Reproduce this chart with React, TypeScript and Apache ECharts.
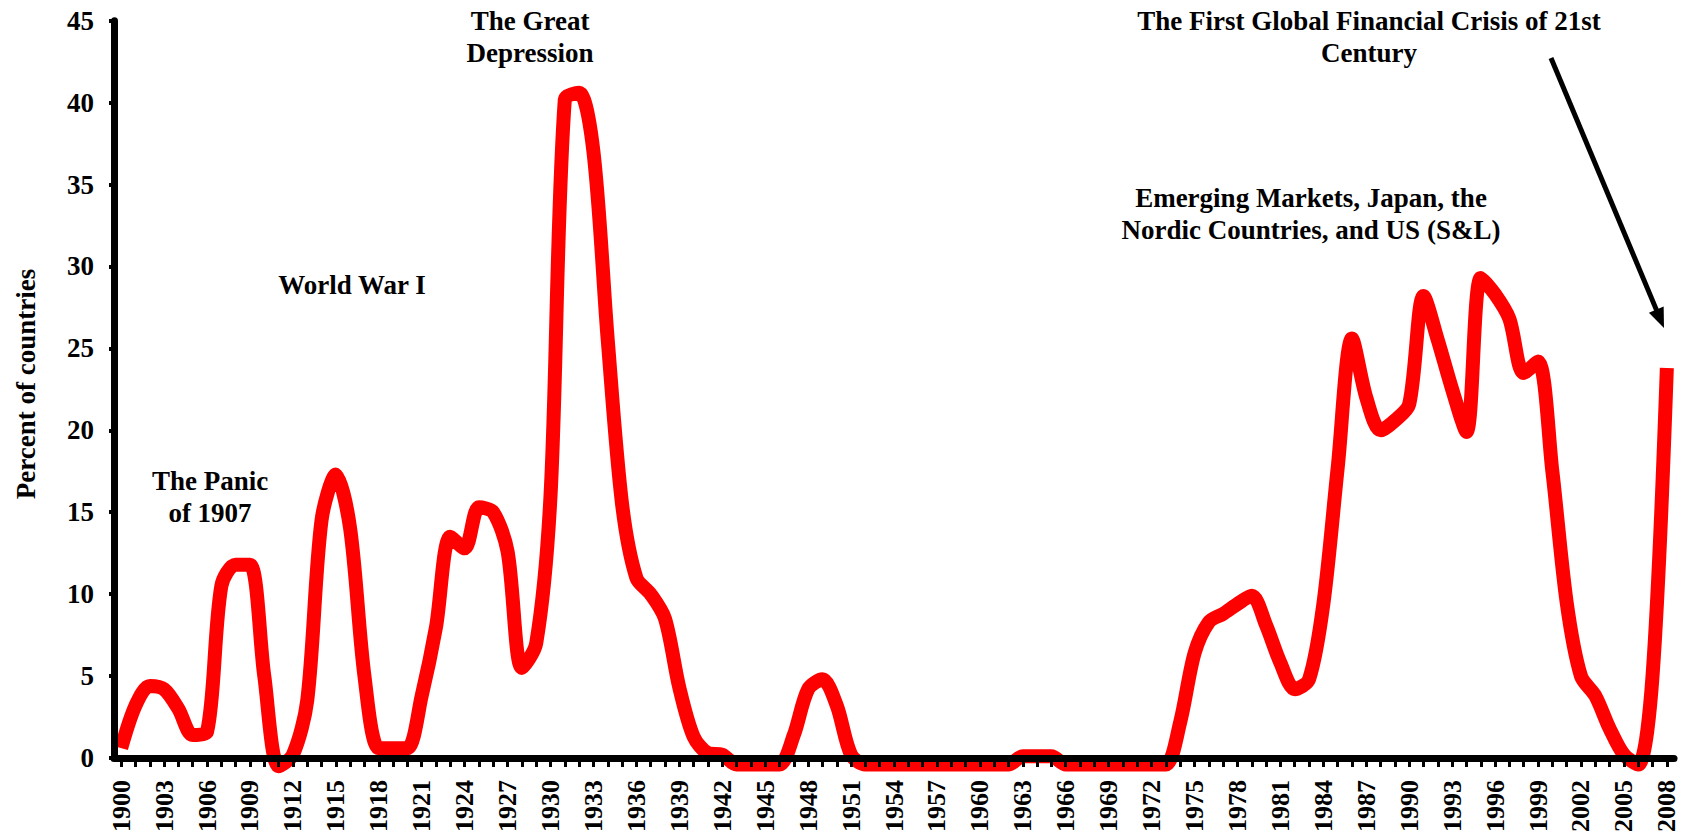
import React, { useEffect, useRef } from "react";
import * as echarts from "echarts";

const years: string[] = [
  "1900","1901","1902","1903","1904","1905","1906","1907","1908","1909",
  "1910","1911","1912","1913","1914","1915","1916","1917","1918","1919",
  "1920","1921","1922","1923","1924","1925","1926","1927","1928","1929",
  "1930","1931","1932","1933","1934","1935","1936","1937","1938","1939",
  "1940","1941","1942","1943","1944","1945","1946","1947","1948","1949",
  "1950","1951","1952","1953","1954","1955","1956","1957","1958","1959",
  "1960","1961","1962","1963","1964","1965","1966","1967","1968","1969",
  "1970","1971","1972","1973","1974","1975","1976","1977","1978","1979",
  "1980","1981","1982","1983","1984","1985","1986","1987","1988","1989",
  "1990","1991","1992","1993","1994","1995","1996","1997","1998","1999",
  "2000","2001","2002","2003","2004","2005","2006","2007","2008",
];

// Percent of countries in banking crisis
const percentCountries: number[] = [
  0.6, 3.2, 4.4, 4.2, 3.0, 1.4, 1.6, 10.5, 11.8, 11.8,
  5.0, -0.5, 0.2, 3.5, 14.5, 17.3, 14.0, 5.0, 0.6, 0.6,
  0.6, 3.8, 8.0, 13.5, 12.8, 15.3, 15.0, 12.6, 5.5, 7.0,
  16.0, 40.2, 40.6, 37.0, 25.5, 15.5, 11.0, 10.0, 8.5, 4.3,
  1.3, 0.3, 0.2, -0.4, -0.4, -0.4, -0.4, 1.4, 4.2, 4.8,
  3.2, 0.2, -0.4, -0.4, -0.4, -0.4, -0.4, -0.4, -0.4, -0.4,
  -0.4, -0.4, -0.4, 0.1, 0.1, 0.1, -0.4, -0.4, -0.4, -0.4,
  -0.4, -0.4, -0.4, -0.4, 2.2, 6.4, 8.3, 8.8, 9.4, 9.9,
  8.1, 5.8, 4.2, 4.8, 9.4, 17.7, 25.6, 22.0, 20.0, 20.6,
  21.6, 28.2, 25.5, 22.5, 19.9, 29.3, 28.3, 26.8, 23.5, 24.2,
  17.5, 9.5, 5.0, 3.8, 1.8, 0.2, -0.4, 5.0, 23.8,
];

const yTicks = { min: 0, max: 45, interval: 5 };

const yTitle = "Percent of countries";

const annotations: { text: string; x: number; y: number }[] = [
  { text: "The Panic\nof 1907", x: 210, y: 497 },
  { text: "World War I", x: 352, y: 285 },
  { text: "The Great\nDepression", x: 530, y: 37 },
  { text: "The First Global Financial Crisis of 21st\nCentury", x: 1369, y: 37 },
  { text: "Emerging Markets, Japan, the\nNordic Countries, and US (S&L)", x: 1311, y: 214 },
];

const FONT = "'Liberation Serif', 'Times New Roman', serif";

export default function App() {
  const ref = useRef<HTMLDivElement>(null);

  useEffect(() => {
    document.body.style.margin = "0";
    document.body.style.overflow = "hidden";
    if (!ref.current) return;
    const chart = echarts.init(ref.current, undefined, { renderer: "svg" });

    // arrow geometry
    const sx = 1551, sy = 58, tx = 1664, ty = 328;
    const dx = tx - sx, dy = ty - sy;
    const len = Math.sqrt(dx * dx + dy * dy);
    const ux = dx / len, uy = dy / len;
    const headLen = 20, headHalf = 8;
    const bx = tx - ux * headLen, by = ty - uy * headLen;
    const nx = -uy, ny = ux;

    const graphics: any[] = annotations.map((a) => ({
      type: "text",
      x: a.x,
      y: a.y,
      z: 20,
      style: {
        text: a.text,
        fill: "#000",
        font: `bold 27px ${FONT}`,
        align: "center",
        verticalAlign: "middle",
        lineHeight: 32,
      },
    }));
    graphics.push({
      type: "text",
      x: 26,
      y: 384,
      rotation: Math.PI / 2,
      z: 20,
      style: {
        text: yTitle,
        fill: "#000",
        font: `bold 27px ${FONT}`,
        align: "center",
        verticalAlign: "middle",
      },
    });
    graphics.push({
      type: "line",
      z: 20,
      shape: { x1: sx, y1: sy, x2: bx + ux * 2, y2: by + uy * 2 },
      style: { stroke: "#000", lineWidth: 5 },
    });
    graphics.push({
      type: "polygon",
      z: 20,
      shape: {
        points: [
          [tx, ty],
          [bx + nx * headHalf, by + ny * headHalf],
          [bx - nx * headHalf, by - ny * headHalf],
        ],
      },
      style: { fill: "#000" },
    });

    chart.setOption({
      animation: false,
      backgroundColor: "#fff",
      grid: { left: 114, right: 8, top: 20.7, bottom: 74.5, containLabel: false },
      xAxis: {
        type: "category",
        data: years,
        boundaryGap: true,
        offset: 4,
        z: 10,
        axisLine: { show: true, lineStyle: { color: "#000", width: 7 } },
        axisTick: {
          show: true,
          interval: 0,
          alignWithLabel: true,
          length: 9,
          lineStyle: { color: "#000", width: 3 },
        },
        axisLabel: {
          interval: 2,
          rotate: 90,
          margin: 18,
          color: "#000",
          fontFamily: FONT,
          fontWeight: "bold",
          fontSize: 26,
          lineHeight: 20,
        },
        splitLine: { show: false },
      },
      yAxis: {
        type: "value",
        min: yTicks.min,
        max: yTicks.max,
        interval: yTicks.interval,
        z: 10,
        axisLine: { show: true, lineStyle: { color: "#000", width: 7 } },
        axisTick: { show: true, length: 5, lineStyle: { color: "#000", width: 4 } },
        axisLabel: {
          margin: 20,
          color: "#000",
          fontFamily: FONT,
          fontWeight: "bold",
          fontSize: 27,
        },
        splitLine: { show: false },
      },
      series: [
        {
          type: "line",
          data: percentCountries,
          smooth: 0.3,
          symbol: "none",
          clip: false,
          z: 2,
          lineStyle: { color: "#FF0000", width: 14 },
        },
      ],
      graphic: graphics,
    });

    return () => {
      chart.dispose();
    };
  }, []);

  return <div ref={ref} style={{ width: 1682, height: 835, overflow: "hidden" }} />;
}
